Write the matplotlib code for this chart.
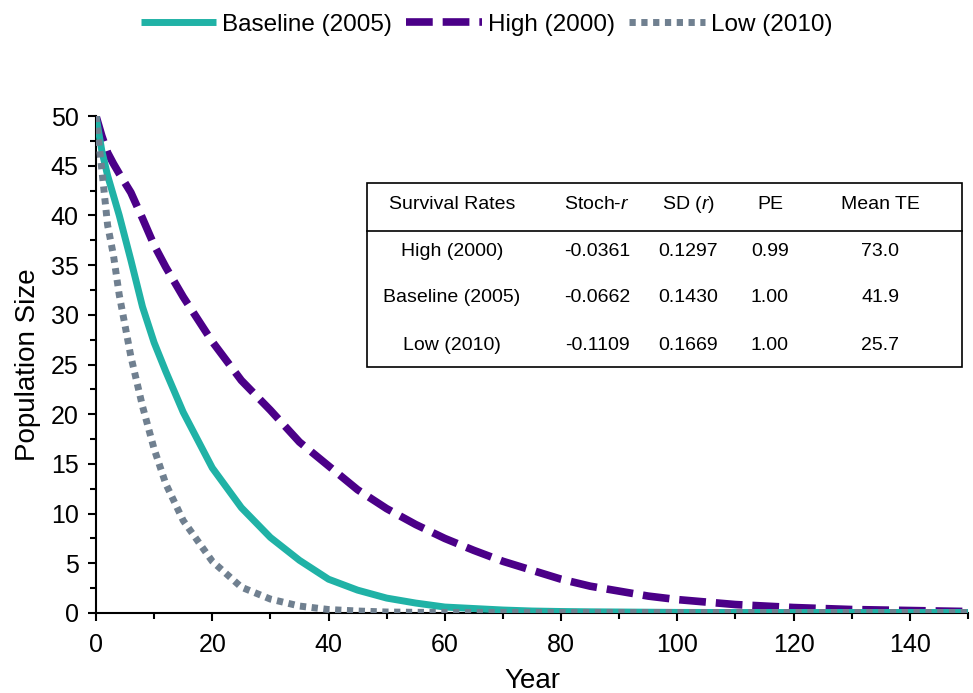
import numpy as np
import matplotlib.pyplot as plt
from matplotlib import patches
from matplotlib.lines import Line2D
from matplotlib.ticker import MultipleLocator

plt.rcParams['font.family'] = ['Liberation Sans', 'DejaVu Sans']
plt.rcParams['mathtext.fontset'] = 'custom'
plt.rcParams['mathtext.rm'] = 'Liberation Sans'
plt.rcParams['mathtext.it'] = 'Liberation Sans:italic'

# values
years = [0, 1, 2, 3, 4, 6, 8, 10, 12, 15, 20, 25, 30, 35, 40, 45, 50, 55, 60,
         65, 70, 75, 80, 85, 90, 95, 100, 110, 120, 130, 140, 150]
baseline = [50, 46.5, 44, 42, 40, 35.5, 30.8, 27.2, 24.3, 20.2, 14.6, 10.6, 7.6,
            5.3, 3.4, 2.3, 1.5, 1.0, 0.6, 0.45, 0.3, 0.2, 0.15, 0.12, 0.1, 0.08,
            0.06, 0.05, 0.05, 0.05, 0.05, 0.05]
high = [50, 48, 46.3, 45.2, 44.2, 42.3, 39.7, 37, 34.8, 31.8, 27.3, 23.4, 20.4,
        17.2, 14.8, 12.4, 10.5, 8.9, 7.5, 6.3, 5.2, 4.3, 3.4, 2.7, 2.2, 1.7,
        1.35, 0.85, 0.55, 0.35, 0.25, 0.15]
low = [50, 44.6, 39, 36, 32, 25.8, 20.8, 16.5, 13, 9.3, 5.2, 2.6, 1.4, 0.7,
       0.35, 0.2, 0.1, 0.07, 0.05, 0.05, 0.05, 0.05, 0.05, 0.05, 0.05, 0.05,
       0.05, 0.05, 0.05, 0.05, 0.05, 0.05]

table_header = ["Survival Rates", "Stoch-$\\it{r}$", "SD ($\\it{r}$)", "PE", "Mean TE"]
table_rows = [["High (2000)", "-0.0361", "0.1297", "0.99", "73.0"],
              ["Baseline (2005)", "-0.0662", "0.1430", "1.00", "41.9"],
              ["Low (2010)", "-0.1109", "0.1669", "1.00", "25.7"]]

W, H = 973, 693
fig = plt.figure(figsize=(W / 100, H / 100), dpi=100)
ax = fig.add_axes([96 / W, 1 - 613 / H, (968 - 96) / W, (613 - 116) / H])

ax.plot(years, baseline, color="#20b2a6", lw=5, solid_capstyle='butt',
        label="Baseline (2005)", zorder=3)
ax.plot(years, high, color="#4b0088", lw=5.5, dashes=(3.5, 1.3),
        dash_capstyle='butt', label="High (2000)", zorder=2)
ax.plot(years, low, color="#708090", lw=5, dashes=(0.9, 0.8),
        dash_capstyle='butt', label="Low (2010)", zorder=4)

ax.set_xlim(0, 150)
ax.set_ylim(0, 50)
ax.xaxis.set_major_locator(MultipleLocator(20))
ax.xaxis.set_minor_locator(MultipleLocator(10))
ax.yaxis.set_major_locator(MultipleLocator(5))
ax.yaxis.set_minor_locator(MultipleLocator(2.5))
ax.spines['top'].set_visible(False)
ax.spines['right'].set_visible(False)
for s in ['left', 'bottom']:
    ax.spines[s].set_linewidth(1.5)
ax.tick_params(which='major', length=6, width=1.5, labelsize=18, direction='out')
ax.tick_params(axis='x', which='major', pad=8.5)
ax.tick_params(axis='y', which='major', pad=6.5)
ax.tick_params(which='minor', length=4, width=1.5, direction='out')
ax.set_xlabel("Year", fontsize=20, labelpad=8)
ax.set_ylabel("Population Size", fontsize=20, labelpad=7)
for sp in ax.spines.values():
    sp.set_clip_on(False)

fig.legend(loc='upper center', bbox_to_anchor=(0.5, 1.012), ncol=3, frameon=False,
           fontsize=17.5, handlelength=3.1, columnspacing=0.6, handletextpad=0.25)

# summary table drawn in figure pixels
def fx(x):
    return x / W

def fy(y):
    return 1 - y / H

fig.add_artist(patches.Rectangle((fx(367), fy(367)), fx(962) - fx(367), fy(183) - fy(367),
                                 transform=fig.transFigure, fill=False, lw=1.2, ec='black'))
fig.add_artist(Line2D([fx(367), fx(962)], [fy(231), fy(231)], transform=fig.transFigure,
                      lw=1.2, color='black'))
col_x = [452, 597, 688, 770, 880]
row_y = [205, 251, 298, 345]
for cx, h in zip(col_x, table_header):
    fig.text(fx(cx), fy(row_y[0]), h, ha='center', va='center', fontsize=14)
for ry, row in zip(row_y[1:], table_rows):
    for cx, v in zip(col_x, row):
        fig.text(fx(cx), fy(ry), v, ha='center', va='center', fontsize=14)

fig.savefig("out.png", dpi=100)
